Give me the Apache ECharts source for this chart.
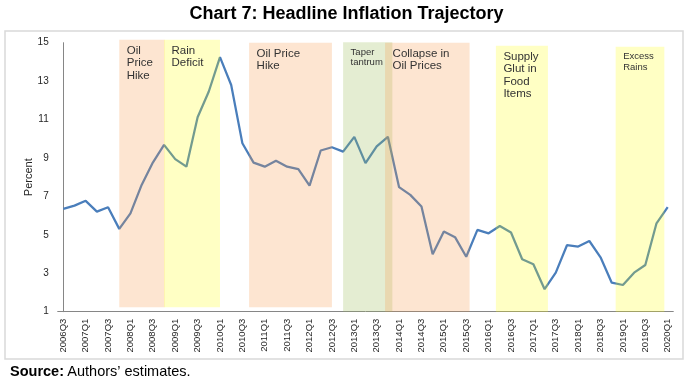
<!DOCTYPE html>
<html>
<head>
<meta charset="utf-8">
<script src="https://cdn.jsdelivr.net/npm/echarts@6/dist/echarts.min.js"></script>
<style>
  html, body { margin: 0; padding: 0; background: #fff; }
  #chart { width: 693px; height: 385px; }
</style>
</head>
<body>
<div id="chart"></div>
<script>
// ---- data ----
const categories = [
  '2006Q3','2006Q4','2007Q1','2007Q2','2007Q3','2007Q4','2008Q1','2008Q2','2008Q3','2008Q4',
  '2009Q1','2009Q2','2009Q3','2009Q4','2010Q1','2010Q2','2010Q3','2010Q4','2011Q1','2011Q2',
  '2011Q3','2011Q4','2012Q1','2012Q2','2012Q3','2012Q4','2013Q1','2013Q2','2013Q3','2013Q4',
  '2014Q1','2014Q2','2014Q3','2014Q4','2015Q1','2015Q2','2015Q3','2015Q4','2016Q1','2016Q2',
  '2016Q3','2016Q4','2017Q1','2017Q2','2017Q3','2017Q4','2018Q1','2018Q2','2018Q3','2018Q4',
  '2019Q1','2019Q2','2019Q3','2019Q4','2020Q1'
];
const inflation = [
  6.35, 6.52, 6.77, 6.21, 6.44, 5.31, 6.12, 7.60, 8.76, 9.68,
  8.94, 8.55, 11.12, 12.46, 14.25, 12.80, 9.77, 8.76, 8.55, 8.86,
  8.55, 8.42, 7.56, 9.39, 9.56, 9.33, 10.10, 8.73, 9.60, 10.10,
  7.48, 7.08, 6.47, 3.99, 5.17, 4.88, 3.86, 5.26, 5.08, 5.46,
  5.12, 3.73, 3.47, 2.17, 3.03, 4.46, 4.39, 4.68, 3.83, 2.51,
  2.39, 3.03, 3.43, 5.60, 6.44
];
const yMin = 1, yMax = 15, yStep = 2;

// episode bands, in quarter-index units along the category axis
const bandLabels = ['Oil\nPrice\nHike', 'Rain\nDeficit', 'Oil Price\nHike', 'Taper\ntantrum',
                    'Collapse in\nOil Prices', 'Supply\nGlut in\nFood\nItems', 'Excess\nRains'];
const bandStart  = [5.0, 9.0, 16.6, 25.0, 28.75, 38.65, 49.35];
const bandEnd    = [9.05, 14.0, 24.0, 29.4, 36.3, 43.3, 53.7];
const bandTop    = [15.15, 15.15, 15.0, 15.02, 15.0, 14.84, 14.79];
const bandBottom = [1.23, 1.23, 1.23, 1.0, 1.0, 0.98, 0.98];
const bandKind   = ['oil', 'rain', 'oil', 'taper', 'oil', 'rain', 'rain'];

// ---- styles ----
const bandFill = {
  oil: 'rgba(247,150,70,0.25)',
  rain: 'rgba(255,255,0,0.23)',
  taper: 'rgba(155,187,89,0.27)'
};
const bandFont = [11.5, 11.5, 11.5, 9.5, 11.5, 11.5, 9.5];
const FONT = 'Liberation Sans, Arial, sans-serif';

const chart = echarts.init(document.getElementById('chart'));

const bandData = bandStart.map((s, i) => [s, bandEnd[i], bandTop[i], bandBottom[i], i]);

const option = {
  animation: false,
  grid: { left: 57.7, right: 19.7, top: 42.7, bottom: 73.3, containLabel: false },
  xAxis: [
    {
      type: 'category',
      data: categories,
      boundaryGap: true,
      axisLine: { lineStyle: { color: '#868686', width: 1 } },
      axisTick: { show: false },
      axisLabel: { interval: 1, rotate: 90, fontSize: 9.5, color: '#262626', fontFamily: FONT, margin: 7 },
      splitLine: { show: false }
    },
    {
      type: 'value', min: -0.5, max: categories.length - 0.5, show: false
    }
  ],
  yAxis: {
    type: 'value',
    min: yMin, max: yMax, interval: yStep,
    name: 'Percent',
    nameLocation: 'middle',
    nameGap: 23,
    nameMoveOverlap: false,
    nameRotate: 90,
    nameTextStyle: { fontSize: 11, color: '#262626', fontFamily: FONT },
    axisLine: { show: true, lineStyle: { color: '#868686', width: 1 } },
    axisTick: { show: false },
    axisLabel: { fontSize: 10, color: '#262626', fontFamily: FONT, margin: 9 },
    splitLine: { show: false }
  },
  series: [
    {
      type: 'line',
      data: inflation,
      xAxisIndex: 0,
      symbol: 'none',
      lineStyle: { color: '#4A7EBB', width: 2.25 },
      z: 2
    },
    {
      type: 'custom',
      xAxisIndex: 1,
      yAxisIndex: 0,
      clip: false,
      z: 3,
      data: bandData,
      renderItem: function (params, api) {
        const p1 = api.coord([api.value(0), api.value(2)]);
        const p2 = api.coord([api.value(1), api.value(3)]);
        const idx = api.value(4);
        const fs = bandFont[idx];
        return {
          type: 'group',
          children: [
            {
              type: 'rect',
              shape: { x: p1[0], y: p1[1], width: p2[0] - p1[0], height: p2[1] - p1[1] },
              style: { fill: bandFill[bandKind[idx]] }
            },
            {
              type: 'text',
              style: {
                text: bandLabels[idx],
                x: p1[0] + 7.5,
                y: p1[1] + 4.5,
                fontSize: fs,
                fontFamily: FONT,
                lineHeight: fs + 1,
                fill: '#333333',
                align: 'left',
                verticalAlign: 'top'
              }
            }
          ]
        };
      }
    }
  ],
  graphic: [
    {
      type: 'rect',
      shape: { x: 5, y: 31, width: 678, height: 328 },
      style: { fill: null, stroke: '#D9D9D9', lineWidth: 1.5 },
      z: -10
    },
    {
      type: 'text',
      left: 'center',
      top: 5,
      style: {
        text: 'Chart 7: Headline Inflation Trajectory',
        fontSize: 18,
        fontWeight: 'bold',
        fontFamily: FONT,
        fill: '#000'
      }
    },
    {
      type: 'text',
      left: 10,
      top: 364,
      style: {
        text: '{b|Source:} {r|Authors’ estimates.}',
        rich: {
          b: { fontSize: 14.5, fontWeight: 'bold', fontFamily: FONT, fill: '#000' },
          r: { fontSize: 14.5, fontFamily: FONT, fill: '#000' }
        }
      }
    }
  ]
};
chart.setOption(option);
</script>
</body>
</html>
